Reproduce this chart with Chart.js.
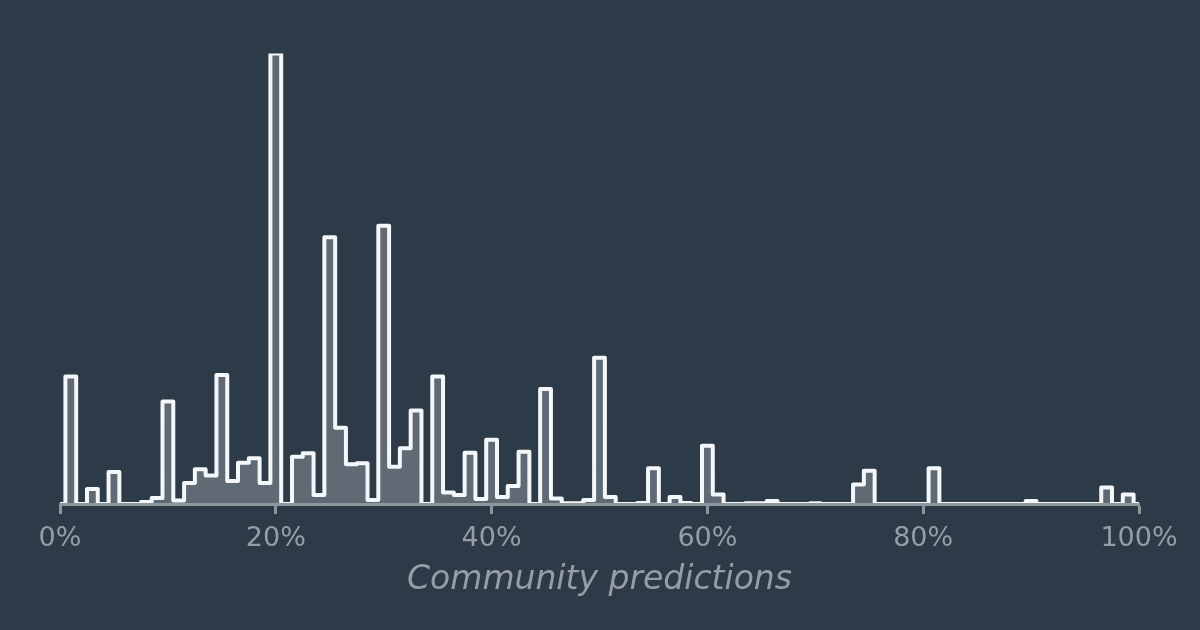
<!DOCTYPE html>
<html>
<head>
<meta charset="utf-8">
<script src="https://cdn.jsdelivr.net/npm/chart.js@4/dist/chart.umd.min.js"></script>
<style>
    html, body { margin: 0; padding: 0; background: #2d3a48; }
    #wrap { width: 1200px; height: 630px; }
</style>
</head>
<body>
<div id="wrap"><canvas id="chart" width="1200" height="630"></canvas></div>
<script>
// Histogram bins, one per whole percent (bin k covers k-0.5% .. k+0.5%)
const binPercents = Array.from({ length: 101 }, (_, i) => i);

// Relative number of forecasts in each bin
const binCounts = [
    0, 127, 0, 15, 0, 32, 0, 0, 2, 6,
    102, 3.5, 21, 34.5, 28.5, 128.5, 23, 41, 45.5, 21,
    448.5, 0, 47, 50.5, 9, 265.5, 76, 39.5, 40.5, 4,
    277, 37, 55.5, 93, 0, 127, 11.5, 9, 51, 5,
    64, 7, 18, 52, 0, 114.5, 5.5, 0.8, 0.8, 4,
    145.5, 7, 0, 0, 1, 35.5, 0, 7, 1, 0,
    58, 9.5, 0, 0, 0.8, 0.8, 3, 0, 0, 0,
    0.8, 0, 0, 0, 19.5, 33, 0, 0, 0, 0,
    0, 35.5, 0, 0, 0, 0, 0, 0, 0, 0,
    3, 0, 0, 0, 0, 0, 0, 16.5, 0, 9.5,
    0
];

const xTicks = [0, 20, 40, 60, 80, 100];

const axisGray = '#8f969c';
const textGray = '#969da4';

document.addEventListener('DOMContentLoaded', () => {
    // each point sits on a bin's left edge; 'before' carries its level on to the next edge
    const points = binPercents.map((p, i) => ({ x: p - 0.5, y: binCounts[i] }));
    const last = binPercents[binPercents.length - 1];
    points.push({ x: last + 0.5, y: binCounts[binCounts.length - 1] });

    const ctx = document.getElementById('chart');
    new Chart(ctx, {
        type: 'line',
        data: {
            datasets: [{
                data: points,
                stepped: 'before',
                borderColor: '#f4f7f9',
                borderWidth: 4,
                borderJoinStyle: 'round',
                backgroundColor: '#5f6a74',
                fill: 'origin',
                pointRadius: 0,
                pointHoverRadius: 0
            }]
        },
        options: {
            responsive: false,
            animation: false,
            devicePixelRatio: 1,
            layout: {
                padding: { left: 60, right: 61, top: 53.5, bottom: 26 }
            },
            plugins: {
                legend: { display: false },
                tooltip: { enabled: false }
            },
            scales: {
                x: {
                    type: 'linear',
                    min: 0,
                    max: 100,
                    afterBuildTicks: axis => {
                        axis.ticks = xTicks.map(v => ({ value: v }));
                    },
                    border: { display: true, color: axisGray, width: 3, z: 1 },
                    grid: {
                        drawOnChartArea: false,
                        drawTicks: true,
                        tickLength: 10,
                        tickWidth: 3,
                        color: axisGray,
                        z: 1
                    },
                    ticks: {
                        color: textGray,
                        padding: 9,
                        maxRotation: 0,
                        font: { family: 'DejaVu Sans', size: 27, lineHeight: 1.16 },
                        callback: v => v + '%'
                    },
                    title: {
                        display: true,
                        text: 'Community predictions',
                        color: textGray,
                        padding: { top: 0, bottom: 7 },
                        font: { family: 'DejaVu Sans', size: 33, style: 'italic', lineHeight: 1.02 }
                    }
                },
                y: {
                    display: false,
                    min: 0,
                    max: 448.5
                }
            }
        }
    });
});
</script>
</body>
</html>
